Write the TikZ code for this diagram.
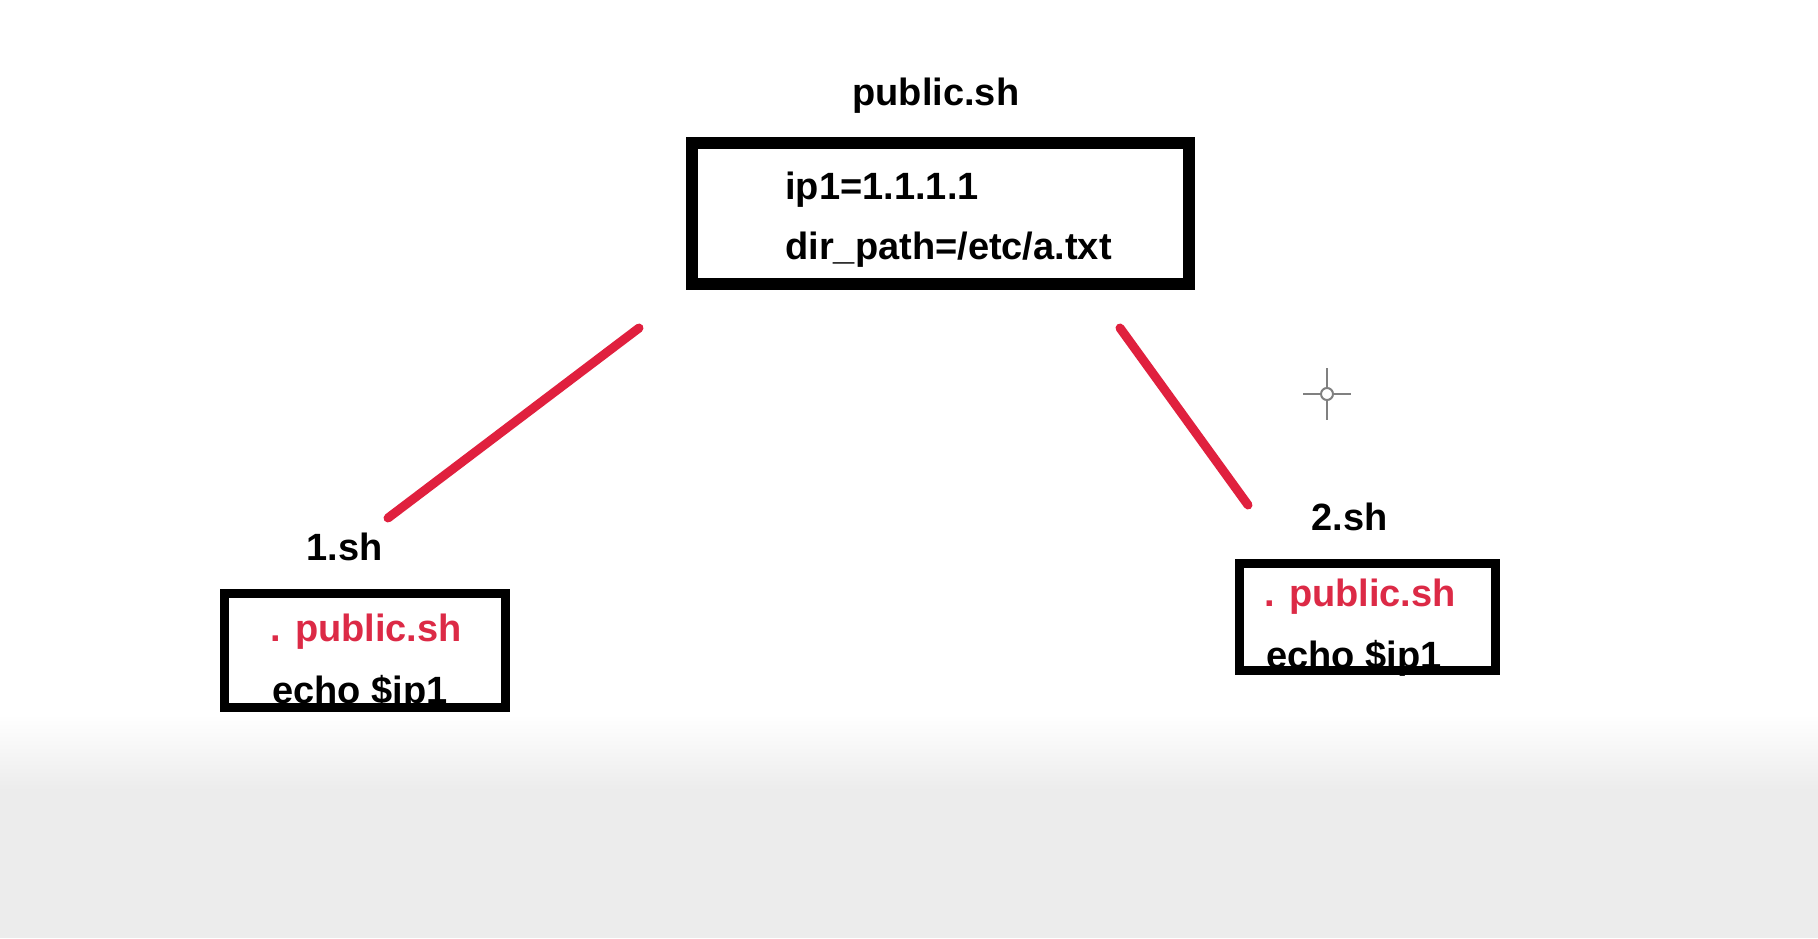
\documentclass[tikz,border=0pt]{standalone}
\usepackage{fontspec}
\setmainfont{Liberation Sans}
\usepackage{tikz}
\definecolor{linkred}{RGB}{224,32,62}
\definecolor{textred}{RGB}{220,42,70}
\definecolor{shadegray}{RGB}{236,236,236}
\begin{document}
\begin{tikzpicture}[x=0.5pt,y=-0.5pt]
	\tikzstyle{label}=[anchor=base west,inner sep=0pt,font=\fontsize{19}{22}\selectfont\bfseries]
	\tikzstyle{bigbox}=[draw=black,line width=5.8pt,minimum width=248.7pt,minimum height=70.7pt,inner sep=0pt]
	\tikzstyle{smallbox}=[draw=black,line width=4.6pt,inner sep=0pt]
	\tikzstyle{link}=[draw=linkred,line width=4.5pt,line cap=round]
	% background
	\fill[white] (0,0) rectangle (1818,938);
	\shade[top color=white,bottom color=shadegray] (0,715) rectangle (1818,790);
	\fill[shadegray] (0,790) rectangle (1818,938);
	\useasboundingbox (0,0) rectangle (1818,938);
	% public.sh
	\node[label] (pubtitle) at (852,105) {public.sh};
	\node[label] (ip) at (785,199) {ip1=1.1.1.1};
	\node[label] (dirpath) at (785,259) {dir\_path=/etc/a.txt};
	\node[bigbox] (pub) at (940.5,213.5) {};
	% 1.sh
	\node[label] (onetitle) at (306,560) {1.sh};
	\node[label,textred] (onesrc) at (270,641) {. public.sh};
	\node[label] (oneecho) at (272,703) {echo \$ip1};
	\node[smallbox,minimum width=140.4pt,minimum height=56.9pt] (one) at (365,650.5) {};
	% 2.sh
	\node[label] (twotitle) at (1311,530) {2.sh};
	\node[label,textred] (twosrc) at (1264,606) {. public.sh};
	\node[label] (twoecho) at (1266,668) {echo \$ip1};
	\node[smallbox,minimum width=127.9pt,minimum height=53.4pt] (two) at (1367.5,617) {};
	% links
	\coordinate (la) at (639,328);
	\coordinate (lb) at (388,518);
	\coordinate (ra) at (1120,328);
	\coordinate (rb) at (1248,505);
	\draw[link] (la) -- (lb);
	\draw[link] (ra) -- (rb);
	% cursor
	\coordinate (cur) at (1327,394);
	\draw[gray,line width=1pt] (cur) circle (3pt);
	\draw[gray,line width=1pt] (cur) ++(-24,0) -- ++(18,0) (cur) ++(6,0) -- ++(18,0)
		(cur) ++(0,-26) -- ++(0,20) (cur) ++(0,6) -- ++(0,20);
\end{tikzpicture}
\end{document}
